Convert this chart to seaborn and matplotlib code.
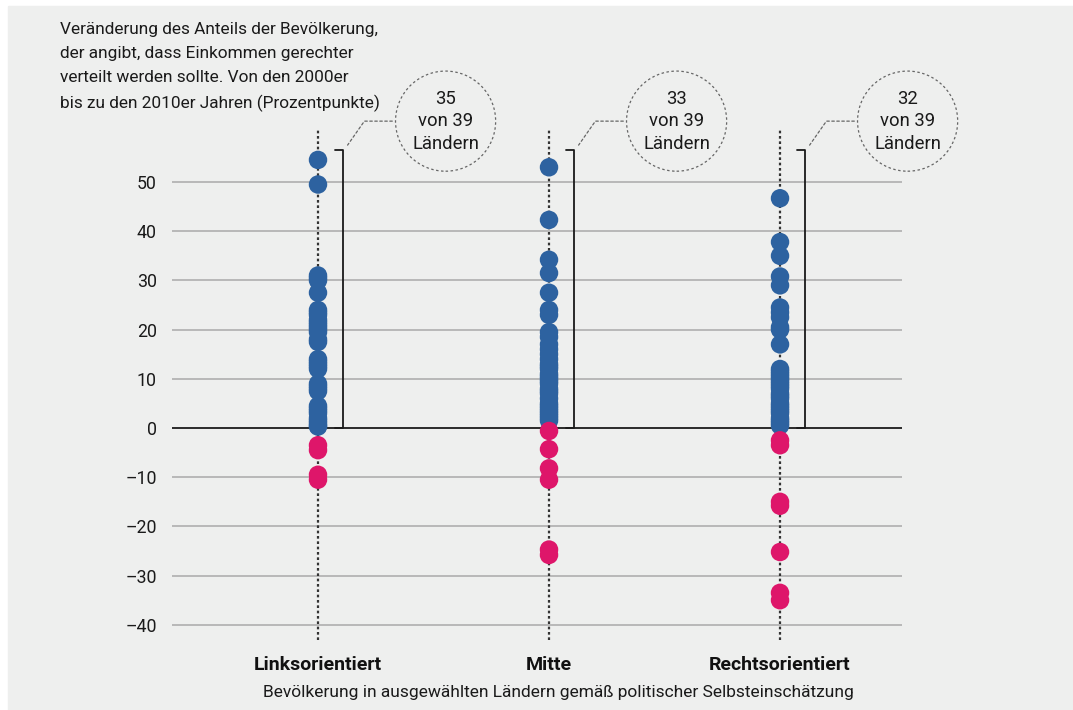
import matplotlib
matplotlib.use("Agg")
import matplotlib.pyplot as plt
from matplotlib.patches import Rectangle
import pandas as pd
import seaborn as sns

# categories and counts
CATEGORIES = ["Linksorientiert", "Mitte", "Rechtsorientiert"]
COUNT_LABELS = ["35\nvon 39\nLändern", "33\nvon 39\nLändern", "32\nvon 39\nLändern"]

# change in percentage points (39 countries per group)
links = [54.5, 49.5, 31, 30.5, 30, 27.5, 24, 23.5, 23, 22, 21.5, 21, 20.5, 20,
         19.5, 18, 17.5, 14, 13.5, 13, 12.5, 12, 9, 8.5, 8, 7.5, 4.5, 4, 3.5,
         3, 2, 1.5, 1, 0.5, 0.3, -3.5, -4.5, -9.5, -10.5]
mitte = [53, 42.3, 34.2, 31.5, 27.5, 24, 23, 19.5, 18.5, 17, 16, 15, 14, 13,
         12.5, 12, 11, 10.5, 10, 9.5, 9, 8, 7.5, 7, 6, 5, 4.5, 4, 3.5, 3, 2.5,
         2, 1.5, -0.6, -4.3, -8.2, -10.5, -24.7, -25.8]
rechts = [46.7, 37.8, 35, 30.8, 29, 24.5, 23.5, 22.5, 20.5, 20, 17, 12, 11.5,
          11, 10.5, 10, 9.5, 9, 8.5, 8, 7, 6.5, 6, 5, 4.5, 4, 3.5, 3, 2, 1.5,
          1, 0.5, -2.5, -3.5, -15, -15.8, -25.2, -33.5, -35]

YTICKS = [-40, -30, -20, -10, 0, 10, 20, 30, 40, 50]

BLUE = "#2d62a0"
PINK = "#de166a"
BG = "#eeefee"
FONT = ["Roboto", "DejaVu Sans"]


def main():
    df = pd.DataFrame({
        "group": [CATEGORIES[0]] * len(links) + [CATEGORIES[1]] * len(mitte)
                 + [CATEGORIES[2]] * len(rechts),
        "value": links + mitte + rechts,
    })
    df["sign"] = df["value"].apply(lambda v: "pos" if v >= 0 else "neg")

    sns.set_style("white")
    plt.rcParams["font.family"] = FONT

    fig = plt.figure(figsize=(10.73, 7.10), dpi=100)
    fig.patches.append(Rectangle((8 / 1073, 0), 1, 1 - 6 / 710,
                                 transform=fig.transFigure, color=BG, zorder=-5))
    ax = fig.add_axes([172 / 1073, 1 - 644.5 / 710, 730 / 1073, 521.5 / 710])
    ax.set_facecolor("none")

    # grid
    for t in YTICKS:
        if t == 0:
            ax.axhline(0, color="#2a2a2a", lw=1.4, zorder=1)
        else:
            ax.axhline(t, color="#b4b4b4", lw=1.3, zorder=1)

    # dotted guides per category
    for i in range(len(CATEGORIES)):
        ax.plot([i, i], [-43, 60.5], color="#333333", lw=1.6,
                ls=(0, (1.2, 1.2)), zorder=2, clip_on=False)

    sns.stripplot(data=df, x="group", y="value", hue="sign", order=CATEGORIES,
                  palette={"pos": BLUE, "neg": PINK}, jitter=False, size=13.3,
                  linewidth=0, legend=False, ax=ax, zorder=3)

    # brackets with count bubbles
    for i, lbl in enumerate(COUNT_LABELS):
        bx = i + 0.108
        ax.plot([i + 0.072, bx, bx, i + 0.072], [56.5, 56.5, 0, 0],
                color="#1a1a1a", lw=1.3, zorder=2, clip_on=False)
        ax.annotate(lbl, xy=(bx + 0.02, 57.5), xytext=(98, 24),
                    textcoords="offset pixels", ha="center", va="center",
                    fontsize=13.3, linespacing=1.33, color="#1a1a1a",
                    annotation_clip=False,
                    bbox=dict(boxstyle="circle,pad=0.9", fc="none",
                              ec="#666666", lw=0.9, ls=(0, (2, 2))),
                    arrowprops=dict(arrowstyle="-", color="#666666", lw=0.9,
                                    ls=(0, (2, 2)), shrinkB=0,
                                    connectionstyle="angle,angleA=0,angleB=55,rad=0"))

    ax.set_xlim(-0.632, 2.528)
    ax.set_ylim(-44, 62)
    ax.set_yticks(YTICKS)
    ax.set_yticklabels([str(t).replace("-", "\u2013") for t in YTICKS])
    ax.tick_params(axis="y", length=0, pad=11, labelsize=12.8, labelcolor="#1a1a1a")
    ax.tick_params(axis="x", length=0, pad=8, labelcolor="#111111")
    for lab in ax.get_xticklabels():
        lab.set_fontweight("bold")
        lab.set_fontsize(14)
    ax.set_xlabel("")
    ax.set_ylabel("")
    sns.despine(ax=ax, left=True, bottom=True)

    fig.text(60 / 1073, 1 - 22 / 710,
             "Veränderung des Anteils der Bevölkerung,\n"
             "der angibt, dass Einkommen gerechter\n"
             "verteilt werden sollte. Von den 2000er\n"
             "bis zu den 2010er Jahren (Prozentpunkte)",
             ha="left", va="top", fontsize=12.4, linespacing=1.75, color="#1a1a1a")
    fig.text(558 / 1073, 1 - 692 / 710,
             "Bevölkerung in ausgewählten Ländern gemäß politischer Selbsteinschätzung",
             ha="center", va="center", fontsize=12.5, color="#1a1a1a")

    fig.savefig("out.png", dpi=100, facecolor="white")


if __name__ == "__main__":
    main()
